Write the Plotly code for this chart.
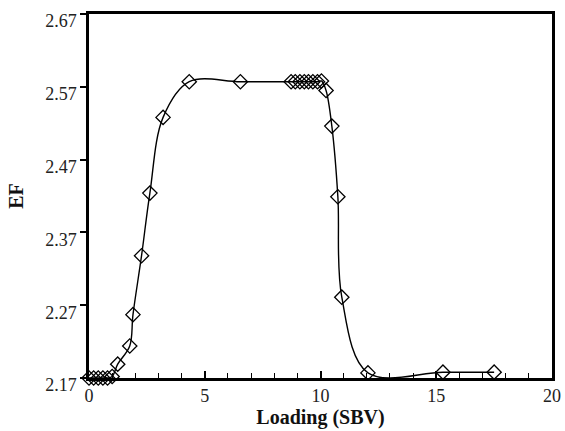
import plotly.graph_objects as go

loading = [0.0, 0.2, 0.4, 0.6, 0.8, 1.0, 1.24, 1.76, 1.90, 2.27, 2.63, 3.20, 4.33, 6.54,
           8.73, 8.91, 9.11, 9.30, 9.48, 9.67, 9.87, 10.04, 10.24, 10.49, 10.75, 10.92,
           12.05, 15.29, 17.5]
ef = [2.170, 2.170, 2.170, 2.170, 2.170, 2.172, 2.189, 2.214, 2.257, 2.338, 2.424, 2.528, 2.577, 2.577,
      2.577, 2.577, 2.577, 2.577, 2.577, 2.577, 2.577, 2.578, 2.565, 2.516, 2.419, 2.281,
      2.177, 2.178, 2.178]

y_ticks = [2.17, 2.27, 2.37, 2.47, 2.57, 2.67]
y_tick_text = ["2.17", "2.27", "2.37", "2.47", "2.57", "2.67"]
x_ticks = [0, 5, 10, 15, 20]

fig = go.Figure()
fig.add_trace(go.Scatter(
    x=loading, y=ef, mode="lines+markers",
    line=dict(color="black", width=1.4, shape="spline", smoothing=1.0),
    marker=dict(symbol="diamond-open", size=11, color="black", line=dict(width=1.3, color="black")),
    cliponaxis=False, showlegend=False,
))

font_family = "Liberation Serif, Times New Roman, serif"
fig.update_layout(
    width=565, height=431,
    margin=dict(l=89, r=13, t=14, b=53, autoexpand=False),
    paper_bgcolor="white", plot_bgcolor="white",
    font=dict(family=font_family, size=18, color="#222"),
    xaxis=dict(
        range=[0, 20], tickvals=x_ticks, ticktext=[str(v) for v in x_ticks],
        ticks="inside", ticklen=7, tickwidth=1.5, tickcolor="black",
        minor=dict(dtick=1, ticks="inside", ticklen=5, tickwidth=1.3, tickcolor="black", showgrid=False),
        showline=True, linecolor="black", linewidth=2.5, mirror=True,
        showgrid=False, zeroline=False, automargin=False,
        title=dict(text="<b>Loading (SBV)</b>", font=dict(size=20, family=font_family, color="#111"), standoff=2),
        tickfont=dict(size=18),
    ),
    yaxis=dict(
        range=[2.17, 2.67], tickvals=y_ticks, ticktext=y_tick_text,
        ticks="outside", ticklen=6, tickwidth=1.5, tickcolor="black",
        ticklabelshift=7, ticklabeloverflow="allow",
        showline=True, linecolor="black", linewidth=2.5, mirror=True,
        showgrid=False, zeroline=False, automargin=False,
        title=dict(text="<b>EF</b>", font=dict(size=20, family=font_family, color="#111"), standoff=17),
        tickfont=dict(size=18),
    ),
)

fig.write_html(
    "out.html",
    config={"displayModeBar": False},
    post_script="document.body.style.margin='0';document.body.style.padding='0';document.body.style.overflow='hidden';",
)
